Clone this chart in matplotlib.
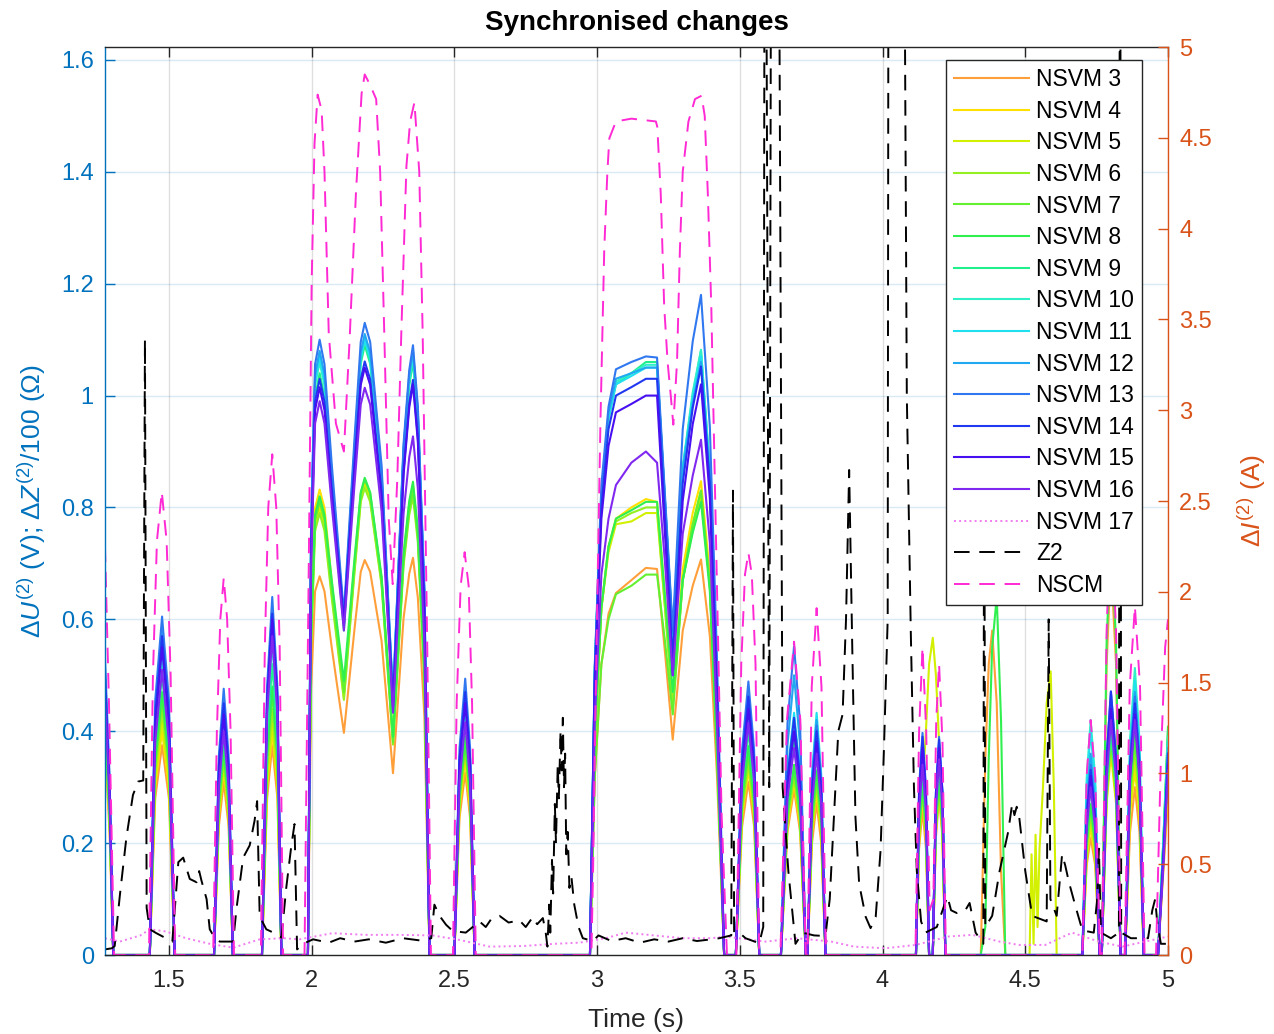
import numpy as np
import matplotlib
matplotlib.use("Agg")
import matplotlib.pyplot as plt
from matplotlib.ticker import FormatStrFormatter

plt.rcParams['font.family'] = ['Liberation Sans', 'DejaVu Sans']
plt.rcParams['mathtext.fontset'] = 'custom'
plt.rcParams['mathtext.rm'] = 'Liberation Sans'
plt.rcParams['mathtext.it'] = 'Liberation Sans:italic'

# knot times of the NSVM traces, one list per burst
t_segs = [
    [1.276, 1.292, 1.305],
    [1.433, 1.452, 1.476, 1.500, 1.520],
    [1.658, 1.675, 1.692, 1.709, 1.724],
    [1.826, 1.844, 1.862, 1.880, 1.894],
    [1.987, 1.998, 2.012, 2.028, 2.045, 2.070, 2.113, 2.150, 2.172, 2.186, 2.205, 2.245, 2.285, 2.322,
     2.342, 2.355, 2.372, 2.395, 2.413],
    [2.500, 2.518, 2.538, 2.555, 2.571],
    [2.975, 2.992, 3.015, 3.040, 3.066, 3.120, 3.171, 3.210, 3.238, 3.265, 3.300, 3.335, 3.364, 3.395, 3.420, 3.445],
    [3.486, 3.508, 3.530, 3.550, 3.568],
    [3.644, 3.667, 3.690, 3.711, 3.731],
    [3.737, 3.753, 3.769, 3.785, 3.800],
    [4.117, 4.128, 4.140, 4.152, 4.163, 4.176, 4.187, 4.198, 4.210, 4.220],
    [4.344, 4.360, 4.372, 4.384, 4.400, 4.415, 4.430],
    [4.515, 4.522, 4.529, 4.536, 4.543, 4.550, 4.562, 4.575, 4.589, 4.600, 4.610],
    [4.700, 4.715, 4.729, 4.745, 4.760],
    [4.768, 4.785, 4.800, 4.818, 4.834],
    [4.850, 4.867, 4.884, 4.900, 4.915],
    [4.965, 4.985, 5.000],
]

Z7 = [0, 0, 0, 0, 0, 0, 0]
Z11 = [0, 0, 0, 0, 0, 0, 0, 0, 0, 0, 0]

nsvm3 = [
    [0.37, 0.22, 0], [0, 0.28, 0.375, 0.28, 0], [0, 0.23, 0.31, 0.23, 0], [0, 0.28, 0.375, 0.28, 0],
    [0, 0.474, 0.65, 0.677, 0.65, 0.551, 0.397, 0.582, 0.685, 0.706, 0.685, 0.561, 0.325, 0.602, 0.682, 0.71, 0.639, 0.426, 0],
    [0, 0.245, 0.326, 0.245, 0],
    [0, 0.32, 0.52, 0.61, 0.647, 0.67, 0.692, 0.69, 0.54, 0.385, 0.58, 0.66, 0.707, 0.57, 0.32, 0],
    [0, 0.23, 0.31, 0.23, 0], [0, 0.22, 0.296, 0.22, 0], [0, 0.2, 0.272, 0.2, 0],
    [0, 0.19, 0.26, 0.19, 0, 0, 0.21, 0.283, 0.21, 0],
    [0, 0.35, 0.52, 0.58, 0.45, 0.15, 0], Z11,
    [0, 0.16, 0.21, 0.16, 0], [0, 0.52, 0.70, 0.52, 0], [0, 0.22, 0.30, 0.22, 0], [0, 0.16, 0.28],
]
nsvm4 = [
    [0.40, 0.24, 0], [0, 0.30, 0.40, 0.30, 0], [0, 0.25, 0.33, 0.25, 0], [0, 0.30, 0.40, 0.30, 0],
    [0, 0.582, 0.799, 0.832, 0.799, 0.669, 0.47, 0.695, 0.82, 0.845, 0.82, 0.672, 0.39, 0.714, 0.806, 0.84, 0.756, 0.504, 0],
    [0, 0.26, 0.35, 0.26, 0],
    [0, 0.39, 0.62, 0.73, 0.78, 0.80, 0.815, 0.81, 0.64, 0.46, 0.69, 0.79, 0.847, 0.68, 0.38, 0],
    [0, 0.25, 0.33, 0.25, 0], [0, 0.23, 0.31, 0.23, 0], [0, 0.22, 0.29, 0.22, 0],
    [0, 0.21, 0.28, 0.21, 0, 0, 0.22, 0.29, 0.22, 0],
    Z7, Z11,
    [0, 0.17, 0.23, 0.17, 0], [0, 0.27, 0.36, 0.27, 0], [0, 0.25, 0.33, 0.25, 0], [0, 0.17, 0.30],
]
nsvm5 = [
    [0.40, 0.24, 0], [0, 0.31, 0.42, 0.31, 0], [0, 0.25, 0.34, 0.25, 0], [0, 0.31, 0.415, 0.31, 0],
    [0, 0.56, 0.768, 0.80, 0.768, 0.647, 0.46, 0.688, 0.815, 0.84, 0.815, 0.665, 0.38, 0.708, 0.802, 0.835, 0.752, 0.501, 0],
    [0, 0.27, 0.36, 0.27, 0],
    [0, 0.385, 0.62, 0.72, 0.77, 0.775, 0.79, 0.79, 0.62, 0.45, 0.67, 0.76, 0.82, 0.66, 0.37, 0],
    [0, 0.25, 0.34, 0.25, 0], [0, 0.24, 0.32, 0.24, 0], [0, 0.22, 0.30, 0.22, 0],
    [0, 0.2, 0.3, 0.4, 0.52, 0.567, 0.5, 0.38, 0.2, 0],
    Z7,
    [0, 0.18, 0.02, 0.215, 0.05, 0.19, 0.3, 0.45, 0.507, 0.3, 0],
    [0, 0.18, 0.24, 0.18, 0], [0, 0.28, 0.37, 0.28, 0], [0, 0.26, 0.35, 0.26, 0], [0, 0.18, 0.32],
]
nsvm6 = [
    [0.41, 0.25, 0], [0, 0.33, 0.44, 0.33, 0], [0, 0.26, 0.35, 0.26, 0], [0, 0.33, 0.44, 0.33, 0],
    [0, 0.553, 0.758, 0.79, 0.758, 0.64, 0.456, 0.683, 0.81, 0.835, 0.81, 0.661, 0.376, 0.696, 0.787, 0.82, 0.738, 0.492, 0],
    [0, 0.28, 0.37, 0.28, 0],
    [0, 0.39, 0.62, 0.73, 0.775, 0.79, 0.80, 0.80, 0.62, 0.44, 0.67, 0.77, 0.83, 0.66, 0.37, 0],
    [0, 0.26, 0.347, 0.26, 0], [0, 0.24, 0.32, 0.24, 0], [0, 0.23, 0.31, 0.23, 0],
    [0, 0.22, 0.29, 0.22, 0, 0, 0.22, 0.30, 0.22, 0],
    Z7, Z11,
    [0, 0.19, 0.25, 0.19, 0], [0, 0.28, 0.38, 0.28, 0], [0, 0.28, 0.37, 0.28, 0], [0, 0.2, 0.36],
]
nsvm7 = [
    [0.42, 0.25, 0], [0, 0.34, 0.46, 0.34, 0], [0, 0.27, 0.36, 0.27, 0], [0, 0.35, 0.47, 0.35, 0],
    [0, 0.567, 0.778, 0.81, 0.778, 0.657, 0.47, 0.698, 0.825, 0.85, 0.825, 0.671, 0.38, 0.704, 0.797, 0.83, 0.747, 0.498, 0],
    [0, 0.28, 0.38, 0.28, 0],
    [0, 0.32, 0.52, 0.60, 0.645, 0.66, 0.68, 0.68, 0.56, 0.43, 0.67, 0.77, 0.83, 0.66, 0.37, 0],
    [0, 0.27, 0.36, 0.27, 0], [0, 0.25, 0.334, 0.25, 0], [0, 0.24, 0.32, 0.24, 0],
    [0, 0.22, 0.30, 0.22, 0, 0, 0.23, 0.31, 0.23, 0],
    Z7, Z11,
    [0, 0.2, 0.265, 0.2, 0], [0, 0.29, 0.39, 0.29, 0], [0, 0.29, 0.39, 0.29, 0], [0, 0.21, 0.39],
]
nsvm8 = [
    [0.42, 0.25, 0], [0, 0.35, 0.47, 0.35, 0], [0, 0.28, 0.37, 0.28, 0], [0, 0.36, 0.48, 0.36, 0],
    [0, 0.574, 0.787, 0.82, 0.787, 0.672, 0.49, 0.708, 0.827, 0.853, 0.827, 0.677, 0.39, 0.718, 0.812, 0.846, 0.761, 0.508, 0],
    [0, 0.29, 0.39, 0.29, 0],
    [0, 0.39, 0.62, 0.73, 0.78, 0.795, 0.81, 0.81, 0.64, 0.47, 0.67, 0.755, 0.81, 0.65, 0.36, 0],
    [0, 0.28, 0.374, 0.28, 0], [0, 0.255, 0.34, 0.255, 0], [0, 0.25, 0.33, 0.25, 0],
    [0, 0.23, 0.31, 0.23, 0, 0, 0.24, 0.32, 0.24, 0],
    [0, 0.05, 0.35, 0.55, 0.641, 0.42, 0], Z11,
    [0, 0.2, 0.27, 0.2, 0], [0, 0.56, 0.75, 0.56, 0], [0, 0.3, 0.40, 0.3, 0], [0, 0.22, 0.408],
]
nsvm9 = [
    [0.47, 0.28, 0], [0, 0.375, 0.50, 0.375, 0], [0, 0.29, 0.39, 0.29, 0], [0, 0.39, 0.52, 0.39, 0],
    [0, 0.728, 0.998, 1.04, 0.998, 0.833, 0.58, 0.886, 1.057, 1.09, 1.057, 0.847, 0.45, 0.889, 1.018, 1.06, 0.954, 0.636, 0],
    [0, 0.315, 0.42, 0.315, 0],
    [0, 0.51, 0.82, 0.96, 1.02, 1.04, 1.06, 1.06, 0.80, 0.55, 0.868, 1.0, 1.08, 0.864, 0.486, 0],
    [0, 0.3, 0.40, 0.3, 0], [0, 0.285, 0.38, 0.285, 0], [0, 0.27, 0.36, 0.27, 0],
    [0, 0.25, 0.33, 0.25, 0, 0, 0.255, 0.34, 0.255, 0],
    Z7, Z11,
    [0, 0.225, 0.30, 0.225, 0], [0, 0.3, 0.40, 0.3, 0], [0, 0.33, 0.44, 0.33, 0], [0, 0.22, 0.40],
]
nsvm10 = [
    [0.49, 0.29, 0], [0, 0.4, 0.53, 0.4, 0], [0, 0.31, 0.41, 0.31, 0], [0, 0.42, 0.56, 0.42, 0],
    [0, 0.742, 1.018, 1.06, 1.018, 0.849, 0.59, 0.896, 1.067, 1.10, 1.067, 0.855, 0.455, 0.898, 1.027, 1.07, 0.963, 0.642, 0],
    [0, 0.33, 0.44, 0.33, 0],
    [0, 0.51, 0.82, 0.96, 1.025, 1.04, 1.055, 1.055, 0.81, 0.56, 0.873, 1.006, 1.082, 0.866, 0.487, 0],
    [0, 0.32, 0.43, 0.32, 0], [0, 0.31, 0.41, 0.31, 0], [0, 0.3, 0.40, 0.3, 0],
    [0, 0.26, 0.35, 0.26, 0, 0, 0.27, 0.36, 0.27, 0],
    Z7, Z11,
    [0, 0.315, 0.42, 0.315, 0], [0, 0.32, 0.43, 0.32, 0], [0, 0.385, 0.513, 0.385, 0], [0, 0.21, 0.39],
]
nsvm11 = [
    [0.50, 0.30, 0], [0, 0.41, 0.55, 0.41, 0], [0, 0.32, 0.43, 0.32, 0], [0, 0.44, 0.59, 0.44, 0],
    [0, 0.749, 1.027, 1.07, 1.027, 0.859, 0.60, 0.90, 1.067, 1.10, 1.067, 0.855, 0.456, 0.902, 1.032, 1.075, 0.968, 0.645, 0],
    [0, 0.345, 0.46, 0.345, 0],
    [0, 0.51, 0.82, 0.96, 1.02, 1.035, 1.05, 1.05, 0.81, 0.57, 0.87, 0.995, 1.07, 0.856, 0.48, 0],
    [0, 0.34, 0.45, 0.34, 0], [0, 0.325, 0.433, 0.325, 0], [0, 0.325, 0.433, 0.325, 0],
    [0, 0.28, 0.37, 0.28, 0, 0, 0.28, 0.37, 0.28, 0],
    Z7, Z11,
    [0, 0.3, 0.40, 0.3, 0], [0, 0.33, 0.44, 0.33, 0], [0, 0.37, 0.49, 0.37, 0], [0, 0.2, 0.38],
]
nsvm12 = [
    [0.51, 0.31, 0], [0, 0.435, 0.58, 0.435, 0], [0, 0.34, 0.45, 0.34, 0], [0, 0.465, 0.62, 0.465, 0],
    [0, 0.756, 1.037, 1.08, 1.037, 0.864, 0.60, 0.906, 1.077, 1.11, 1.077, 0.863, 0.46, 0.906, 1.037, 1.08, 0.972, 0.648, 0],
    [0, 0.35, 0.47, 0.35, 0],
    [0, 0.515, 0.82, 0.97, 1.03, 1.04, 1.05, 1.05, 0.81, 0.575, 0.866, 0.986, 1.06, 0.848, 0.477, 0],
    [0, 0.35, 0.47, 0.35, 0], [0, 0.375, 0.50, 0.375, 0], [0, 0.315, 0.42, 0.315, 0],
    [0, 0.285, 0.38, 0.285, 0, 0, 0.285, 0.38, 0.285, 0],
    Z7, Z11,
    [0, 0.27, 0.36, 0.27, 0], [0, 0.34, 0.45, 0.34, 0], [0, 0.35, 0.47, 0.35, 0], [0, 0.2, 0.37],
]
nsvm13 = [
    [0.53, 0.32, 0], [0, 0.455, 0.605, 0.455, 0], [0, 0.357, 0.476, 0.357, 0], [0, 0.48, 0.64, 0.48, 0],
    [0, 0.77, 1.056, 1.10, 1.056, 0.88, 0.61, 0.922, 1.096, 1.13, 1.096, 0.875, 0.46, 0.914, 1.046, 1.09, 0.981, 0.654, 0],
    [0, 0.37, 0.494, 0.37, 0],
    [0, 0.52, 0.84, 0.98, 1.047, 1.06, 1.07, 1.068, 0.82, 0.58, 0.94, 1.097, 1.18, 0.944, 0.531, 0],
    [0, 0.367, 0.489, 0.367, 0], [0, 0.414, 0.552, 0.414, 0], [0, 0.31, 0.41, 0.31, 0],
    [0, 0.3, 0.397, 0.3, 0, 0, 0.29, 0.39, 0.29, 0],
    Z7, Z11,
    [0, 0.255, 0.34, 0.255, 0], [0, 0.353, 0.471, 0.353, 0], [0, 0.347, 0.462, 0.347, 0], [0, 0.19, 0.36],
]
nsvm14 = [
    [0.50, 0.30, 0], [0, 0.43, 0.57, 0.43, 0], [0, 0.34, 0.45, 0.34, 0], [0, 0.46, 0.61, 0.46, 0],
    [0, 0.721, 0.989, 1.03, 0.989, 0.837, 0.60, 0.877, 1.029, 1.061, 1.029, 0.827, 0.445, 0.865, 0.987, 1.028, 0.925, 0.617, 0],
    [0, 0.35, 0.47, 0.35, 0],
    [0, 0.5, 0.8, 0.94, 1.0, 1.015, 1.03, 1.03, 0.78, 0.53, 0.843, 0.978, 1.052, 0.842, 0.473, 0],
    [0, 0.347, 0.462, 0.347, 0], [0, 0.318, 0.424, 0.318, 0], [0, 0.3, 0.40, 0.3, 0],
    [0, 0.29, 0.39, 0.29, 0, 0, 0.29, 0.385, 0.29, 0],
    Z7, Z11,
    [0, 0.248, 0.331, 0.248, 0], [0, 0.353, 0.471, 0.353, 0], [0, 0.34, 0.45, 0.34, 0], [0, 0.19, 0.36],
]
nsvm15 = [
    [0.48, 0.29, 0], [0, 0.41, 0.55, 0.41, 0], [0, 0.32, 0.43, 0.32, 0], [0, 0.45, 0.60, 0.45, 0],
    [0, 0.711, 0.974, 1.015, 0.974, 0.824, 0.59, 0.866, 1.019, 1.05, 1.019, 0.818, 0.44, 0.858, 0.979, 1.02, 0.918, 0.612, 0],
    [0, 0.34, 0.45, 0.34, 0],
    [0, 0.485, 0.78, 0.91, 0.97, 0.985, 1.0, 1.0, 0.75, 0.50, 0.812, 0.949, 1.02, 0.816, 0.459, 0],
    [0, 0.33, 0.44, 0.33, 0], [0, 0.3, 0.40, 0.3, 0], [0, 0.285, 0.38, 0.285, 0],
    [0, 0.28, 0.37, 0.28, 0, 0, 0.28, 0.37, 0.28, 0],
    Z7, Z11,
    [0, 0.24, 0.32, 0.24, 0], [0, 0.33, 0.44, 0.33, 0], [0, 0.32, 0.43, 0.32, 0], [0, 0.18, 0.34],
]
nsvm16 = [
    [0.46, 0.28, 0], [0, 0.38, 0.51, 0.38, 0], [0, 0.3, 0.40, 0.3, 0], [0, 0.43, 0.57, 0.43, 0],
    [0, 0.693, 0.95, 0.99, 0.95, 0.806, 0.58, 0.84, 0.984, 1.014, 0.984, 0.793, 0.433, 0.789, 0.89, 0.927, 0.834, 0.556, 0],
    [0, 0.31, 0.416, 0.31, 0],
    [0, 0.42, 0.68, 0.78, 0.84, 0.88, 0.90, 0.88, 0.70, 0.50, 0.753, 0.857, 0.921, 0.737, 0.414, 0],
    [0, 0.31, 0.415, 0.31, 0], [0, 0.28, 0.37, 0.28, 0], [0, 0.27, 0.36, 0.27, 0],
    [0, 0.255, 0.34, 0.255, 0, 0, 0.26, 0.35, 0.26, 0],
    Z7, Z11,
    [0, 0.225, 0.30, 0.225, 0], [0, 0.315, 0.42, 0.315, 0], [0, 0.315, 0.42, 0.315, 0], [0, 0.17, 0.33],
]

nsvm17_t = [1.276, 1.328, 1.40, 1.433, 1.49, 1.56, 1.643, 1.725, 1.818, 1.90, 1.957, 2.073, 2.19,
            2.306, 2.423, 2.518, 2.623, 2.74, 2.85, 2.938, 3.03, 3.10, 3.2, 3.3, 3.4, 3.45, 3.59,
            3.70, 3.82, 3.90, 4.01, 4.116, 4.23, 4.315, 4.41, 4.478, 4.57, 4.664, 4.758, 4.84,
            4.92, 5.0]
nsvm17_v = [0.03, 0.024, 0.035, 0.046, 0.042, 0.03, 0.02, 0.013, 0.028, 0.03, 0.028, 0.039, 0.036,
            0.036, 0.035, 0.027, 0.015, 0.016, 0.02, 0.022, 0.03, 0.04, 0.035, 0.03, 0.03, 0.033,
            0.024, 0.03, 0.024, 0.015, 0.012, 0.018, 0.033, 0.036, 0.024, 0.018, 0.018, 0.04,
            0.024, 0.015, 0.024, 0.033]

z2_t = [1.276, 1.300, 1.310, 1.328, 1.351, 1.374, 1.392, 1.410, 1.416, 1.422, 1.433, 1.456, 1.490,
        1.512, 1.533, 1.550, 1.573, 1.597, 1.606, 1.614, 1.632, 1.643, 1.660, 1.678, 1.725, 1.737,
        1.760, 1.783, 1.800, 1.809, 1.818, 1.841, 1.870, 1.894, 1.911, 1.929, 1.940, 1.949, 1.970,
        2.005, 2.06, 2.10, 2.15, 2.20, 2.26, 2.32, 2.38, 2.419, 2.430, 2.448, 2.471, 2.494, 2.540,
        2.588, 2.61, 2.63, 2.658, 2.69, 2.728, 2.75, 2.775, 2.79, 2.81, 2.82, 2.826, 2.832, 2.836,
        2.842, 2.846, 2.852, 2.856, 2.862, 2.866, 2.872, 2.876, 2.880, 2.884, 2.888, 2.892, 2.897,
        2.903, 2.910, 2.920, 2.935, 2.950, 2.985, 3.005, 3.05, 3.10, 3.15, 3.20, 3.25, 3.30, 3.35,
        3.40, 3.428, 3.470, 3.476, 3.480, 3.498, 3.520, 3.568, 3.582, 3.588, 3.603, 3.612, 3.632,
        3.650, 3.670, 3.695, 3.720, 3.760, 3.800, 3.815, 3.830, 3.845, 3.860, 3.872, 3.883, 3.894,
        3.905, 3.918, 3.941, 3.958, 3.976, 3.993, 4.005, 4.018, 4.022, 4.070, 4.085, 4.099, 4.110,
        4.120, 4.135, 4.150, 4.190, 4.227, 4.240, 4.260, 4.290, 4.305, 4.326, 4.353, 4.356, 4.360,
        4.384, 4.410, 4.440, 4.454, 4.462, 4.470, 4.478, 4.500, 4.524, 4.550, 4.575, 4.582, 4.588,
        4.610, 4.629, 4.640, 4.653, 4.677, 4.700, 4.740, 4.752, 4.758, 4.765, 4.800, 4.828, 4.832,
        4.836, 4.870, 4.930, 4.945, 4.955, 4.962, 4.975, 5.000]
z2_v = [0.010, 0.012, 0.016, 0.106, 0.210, 0.286, 0.310, 0.312, 1.100, 0.084, 0.046, 0.039, 0.030,
        0.024, 0.166, 0.174, 0.136, 0.130, 0.150, 0.133, 0.100, 0.046, 0.031, 0.024, 0.024, 0.084,
        0.174, 0.196, 0.240, 0.275, 0.069, 0.046, 0.039, 0.031, 0.120, 0.196, 0.234, 0.010, 0.020,
        0.028, 0.022, 0.030, 0.024, 0.028, 0.022, 0.030, 0.026, 0.030, 0.090, 0.070, 0.054, 0.043, 0.040,
        0.060, 0.050, 0.065, 0.070, 0.058, 0.062, 0.050, 0.068, 0.055, 0.066, 0.040, 0.015, 0.090, 0.040,
        0.170, 0.110, 0.270, 0.200, 0.340, 0.280, 0.400, 0.330, 0.424, 0.300, 0.360, 0.180, 0.220,
        0.120, 0.140, 0.090, 0.050, 0.030, 0.025, 0.035, 0.025, 0.030, 0.022, 0.028, 0.024, 0.030, 0.025,
        0.028, 0.030, 0.035, 0.830, 0.040, 0.040, 0.030, 0.021, 0.050, 2.500, 0.300, 2.500, 2.500,
        0.300, 0.150, 0.020, 0.040, 0.035, 0.034, 0.100, 0.250, 0.400, 0.430, 0.600, 0.867, 0.547,
        0.247, 0.127, 0.068, 0.048, 0.068, 0.187, 0.370, 0.600, 2.500, 2.500, 1.000, 0.576, 0.300,
        0.150, 0.060, 0.040, 0.050, 0.105, 0.080, 0.075, 0.080, 0.093, 0.040, 0.020, 1.000, 0.050,
        0.070, 0.150, 0.220, 0.270, 0.250, 0.265, 0.250, 0.150, 0.070, 0.065, 0.060, 0.600, 0.100,
        0.070, 0.180, 0.160, 0.130, 0.085, 0.044, 0.040, 0.100, 0.190, 0.040, 0.030, 0.040, 2.500,
        0.040, 0.030, 0.030, 0.080, 0.100, 0.060, 0.020, 0.020]

nscm_t = [1.276, 1.290, 1.308, 1.430, 1.444, 1.458, 1.475, 1.492, 1.506, 1.522, 1.655, 1.668, 1.680,
          1.692, 1.704, 1.716, 1.728, 1.822, 1.836, 1.848, 1.862, 1.876, 1.888, 1.900, 1.975, 1.990,
          2.000, 2.010, 2.021, 2.035, 2.045, 2.060, 2.085, 2.113, 2.133, 2.155, 2.175, 2.186, 2.205,
          2.226, 2.240, 2.255, 2.270, 2.284, 2.300, 2.314, 2.332, 2.345, 2.360, 2.377, 2.389, 2.405,
          2.418, 2.495, 2.508, 2.522, 2.536, 2.550, 2.562, 2.575, 2.980, 2.986, 2.998, 3.012, 3.025,
          3.036, 3.043, 3.066, 3.12, 3.206, 3.211, 3.223, 3.235, 3.247, 3.258, 3.267, 3.280, 3.290,
          3.300, 3.320, 3.343, 3.366, 3.377, 3.388, 3.400, 3.412, 3.424, 3.436, 3.455, 3.488, 3.505,
          3.518, 3.530, 3.542, 3.555, 3.568, 3.642, 3.665, 3.690, 3.712, 3.731, 3.737, 3.752, 3.769,
          3.786, 3.802, 4.115, 4.128, 4.140, 4.153, 4.165, 4.178, 4.188, 4.198, 4.210, 4.222, 4.700,
          4.715, 4.729, 4.745, 4.762, 4.768, 4.785, 4.800, 4.818, 4.834, 4.848, 4.866, 4.884, 4.902,
          4.918, 4.958, 4.975, 4.990, 5.000]
nscm_v = [0.73, 0.45, 0.0, 0.0, 0.50, 0.74, 0.828, 0.74, 0.50, 0.0, 0.0, 0.40, 0.60,
          0.674, 0.60, 0.40, 0.0, 0.0, 0.55, 0.80, 0.895, 0.80, 0.55, 0.0, 0.0, 0.70,
          1.20, 1.45, 1.538, 1.51, 1.40, 1.11, 0.95, 0.90, 1.10, 1.36, 1.54, 1.574, 1.555,
          1.53, 1.40, 1.10, 0.78, 0.663, 0.85, 1.11, 1.41, 1.49, 1.524, 1.40, 1.11, 0.55,
          0.0, 0.0, 0.45, 0.66, 0.72, 0.66, 0.45, 0.0, 0.0, 0.154, 0.556, 0.96, 1.26,
          1.40, 1.46, 1.49, 1.495, 1.49, 1.48, 1.36, 1.16, 1.06, 1.00, 0.948, 1.06, 1.26,
          1.40, 1.49, 1.53, 1.536, 1.50, 1.36, 1.16, 0.857, 0.556, 0.254, 0.0, 0.0, 0.52,
          0.68, 0.719, 0.68, 0.52, 0.0, 0.0, 0.42, 0.56, 0.42, 0.0, 0.0, 0.48, 0.62,
          0.48, 0.0, 0.0, 0.40, 0.55, 0.40, 0.08, 0.10, 0.42, 0.52, 0.38, 0.0, 0.0,
          0.32, 0.42, 0.32, 0.0, 0.0, 0.58, 0.80, 0.58, 0.0, 0.0, 0.48, 0.623, 0.48,
          0.0, 0.0, 0.35, 0.55, 0.60]

nsvm_series = [
    ("NSVM 3", "#FF9F3A", nsvm3),
    ("NSVM 4", "#FFE000", nsvm4),
    ("NSVM 5", "#D2F000", nsvm5),
    ("NSVM 6", "#94F020", nsvm6),
    ("NSVM 7", "#62F030", nsvm7),
    ("NSVM 8", "#30F050", nsvm8),
    ("NSVM 9", "#20F08C", nsvm9),
    ("NSVM 10", "#30F0C8", nsvm10),
    ("NSVM 11", "#20E0F0", nsvm11),
    ("NSVM 12", "#20A8F0", nsvm12),
    ("NSVM 13", "#3078F0", nsvm13),
    ("NSVM 14", "#2038F0", nsvm14),
    ("NSVM 15", "#4810F0", nsvm15),
    ("NSVM 16", "#8028F0", nsvm16),
]

x_ticks = [1.5, 2, 2.5, 3, 3.5, 4, 4.5, 5]
left_ticks = [0, 0.2, 0.4, 0.6, 0.8, 1.0, 1.2, 1.4, 1.6]
right_ticks = [0, 0.5, 1, 1.5, 2, 2.5, 3, 3.5, 4, 4.5, 5]

BLUE = "#0072BD"
ORANGE = "#D95319"

t_nsvm = np.concatenate(t_segs)

fig = plt.figure(figsize=(12.74, 10.34), dpi=100)
ax = fig.add_axes([0.0824, 0.0764, 0.8344, 0.8781])

handles = []
for label, color, segs in nsvm_series:
    y = np.concatenate(segs)
    assert len(y) == len(t_nsvm), label
    h, = ax.plot(t_nsvm, y, color=color, lw=1.5, label=label, solid_joinstyle='round')
    handles.append(h)

h, = ax.plot(nsvm17_t, nsvm17_v, color="#F07CF0", lw=1.4, ls=":", label="NSVM 17")
handles.append(h)
h, = ax.plot(z2_t, z2_v, color="black", lw=1.4, label="Z2")
h.set_dashes([8, 5])
handles.append(h)
h, = ax.plot(nscm_t, nscm_v, color="#FF2AD4", lw=1.4, label="NSCM")
h.set_dashes([8, 5])
handles.append(h)

ax.set_xlim(1.276, 5)
ax.set_ylim(0, 1.623)
ax.set_xticks(x_ticks)
ax.set_yticks(left_ticks)
ax.xaxis.set_major_formatter(FormatStrFormatter('%g'))
ax.yaxis.set_major_formatter(FormatStrFormatter('%g'))
ax.set_axisbelow(True)
ax.xaxis.grid(True, color="#262626", alpha=0.15, lw=1.0)
ax.yaxis.grid(True, color=BLUE, alpha=0.15, lw=1.0)

ax.tick_params(axis='x', direction='in', length=7, width=1, colors='#262626', labelsize=17,
               pad=11, top=True, labelcolor='#262626')
ax.tick_params(axis='y', direction='in', length=7, width=1, colors=BLUE, labelsize=17, pad=8)
ax.spines['left'].set_color(BLUE)
ax.spines['right'].set_visible(False)
for s in ['top', 'bottom']:
    ax.spines[s].set_color('#262626')
for s in ax.spines.values():
    s.set_linewidth(1.0)

ax2 = ax.twinx()
ax2.set_ylim(0, 5)
ax2.set_yticks(right_ticks)
ax2.yaxis.set_major_formatter(FormatStrFormatter('%g'))
ax2.tick_params(axis='y', direction='in', length=7, width=1, colors=ORANGE, labelsize=17, pad=8)
ax2.spines['right'].set_color(ORANGE)
ax2.spines['right'].set_linewidth(1.0)
ax2.spines['left'].set_visible(False)
ax2.spines['top'].set_visible(False)
ax2.spines['bottom'].set_visible(False)

ax.set_xlabel("Time (s)", fontsize=19, color='#262626', labelpad=11)
ax.set_ylabel(r"$\Delta U^{(2)}$ (V); $\Delta Z^{(2)}$/100 ($\Omega$)", fontsize=19, color=BLUE,
              labelpad=9)
ax2.set_ylabel(r"$\Delta I^{(2)}$ (A)", fontsize=19, color=ORANGE, labelpad=17)
ax.set_title("Synchronised changes", fontsize=20, fontweight='bold', color='black', pad=12)

leg = ax.legend(handles=handles, loc='upper right', bbox_to_anchor=(0.9755, 0.9857),
                borderaxespad=0, fontsize=16.5, handlelength=3.3, handletextpad=0.3,
                labelspacing=0.376, borderpad=0.35, fancybox=False, framealpha=1,
                edgecolor='#262626')
leg.get_frame().set_linewidth(1.0)
leg.set_zorder(10)

fig.savefig("out.png", dpi=100)
